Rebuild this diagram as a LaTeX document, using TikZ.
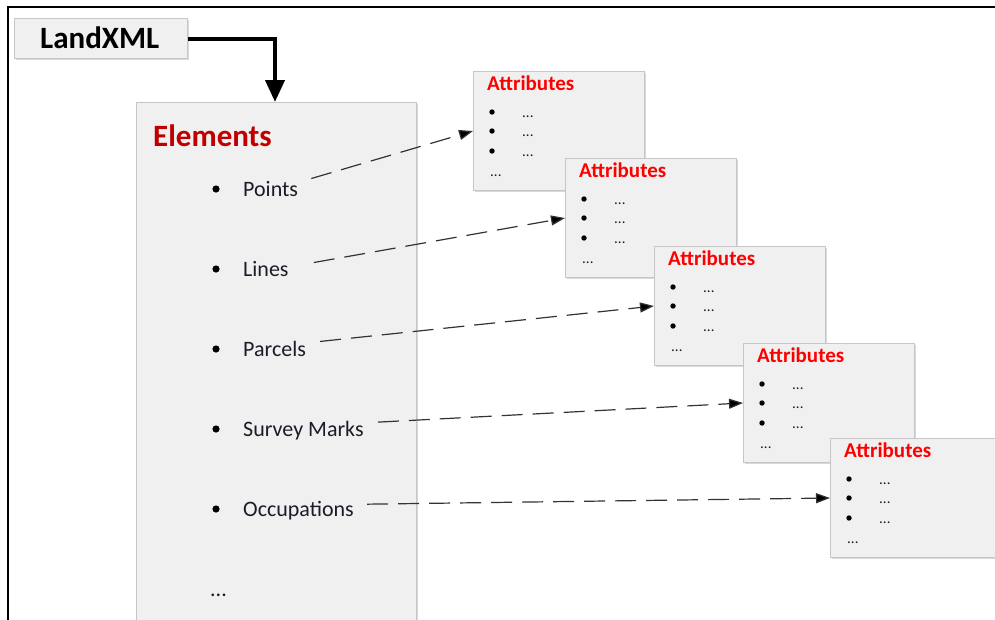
\documentclass[tikz,border=0pt]{standalone}
\usepackage{fontspec}
\setmainfont{Carlito}
\usetikzlibrary{arrows.meta,shadows,calc}
\definecolor{boxfill}{HTML}{F0F0F0}
\definecolor{boxline}{HTML}{C6C6C6}
\definecolor{elemred}{HTML}{C00000}
\definecolor{attrred}{HTML}{FF0000}
\definecolor{labeltext}{HTML}{1C1C28}

\begin{document}
\begin{tikzpicture}[x=1pt,y=-1pt,
  panel/.style={draw=boxline, fill=boxfill, line width=1.3pt, rectangle,
    anchor=north west, inner sep=0pt,
    drop shadow={shadow xshift=1.5pt, shadow yshift=-1.5pt, fill=black, opacity=0.15}},
  attrpanel/.style={panel, minimum width=171pt, minimum height=119pt},
  bigtitle/.style={font=\fontsize{31}{34}\selectfont\bfseries, inner sep=0pt, anchor=base west},
  attrtitle/.style={font=\fontsize{21}{24}\selectfont\bfseries, text=attrred, inner sep=0pt, anchor=base west},
  itemlabel/.style={font=\fontsize{22}{26}\selectfont, text=labeltext, inner sep=0pt, anchor=base west},
  smalldots/.style={font=\fontsize{15}{18}\selectfont, text=labeltext, inner sep=0pt, anchor=base west},
  link/.style={dashed, dash pattern=on 21pt off 10pt, line width=1.2pt, draw=black!80,
    -{Triangle[length=14pt,width=10pt,fill=black]}},
]
\clip (0,0) rectangle (995,619);
\fill[white] (0,0) rectangle (995,619);

% outer frame (top and left edges)
\draw[line width=1.6pt] (8,625) -- (8,7) -- (1000,7);

% root box
\node[panel, minimum width=173pt, minimum height=40pt] (root) at (14,18) {};
\node[bigtitle] (rootlabel) at (40,48) {LandXML};

% elements panel
\node[panel, minimum width=280pt, minimum height=530pt] (elem) at (136,102) {};
\node[bigtitle, text=elemred] (elemtitle) at (153,146) {Elements};

\foreach \n/\y/\t in {p1/196/Points, p2/276/Lines, p3/356/Parcels, p4/436/Survey Marks, p5/516/Occupations}{
  \fill[black] (216,\y-7) circle (3.6pt);
  \node[itemlabel] (\n) at (243,\y) {\t};
}
\node[itemlabel] (pmore) at (210,596) {...};

% attribute panels, stacked diagonally
\foreach \i/\X/\Y in {1/473/71, 2/565/158, 3/654/246, 4/743/343, 5/830/438}{
  \node[attrpanel] (a\i) at (\X,\Y) {};
  \node[attrtitle] (at\i) at (\X+14,\Y+19) {Attributes};
  \foreach \k/\dy in {1/41, 2/60, 3/80}{
    \fill[black] (\X+19,\Y+\dy) circle (2.7pt);
    \node[smalldots] (ad\i\k) at (\X+49,\Y+\dy+5) {...};
  }
  \node[smalldots] (am\i) at (\X+17,\Y+105) {...};
  \coordinate (in\i) at (\X,\Y+60);
}

% dashed links from element names to their attribute panels
\draw[link] ($(p1.east)+(13,-10)$) -- (in1);
\draw[link] ($(p2.east)+(25,-6)$) -- (in2);
\draw[link] ($(p3.east)+(14,-7)$) -- (in3);
\draw[link] ($(p4.east)+(14,-8)$) -- (in4);
\draw[link] ($(p5.east)+(13,-6)$) -- (in5);

% root to elements connector
\draw[line width=4pt, -{Triangle[length=22pt,width=19pt]}]
  (root.east) -| (elem.north -| 275,0);
\end{tikzpicture}
\end{document}
